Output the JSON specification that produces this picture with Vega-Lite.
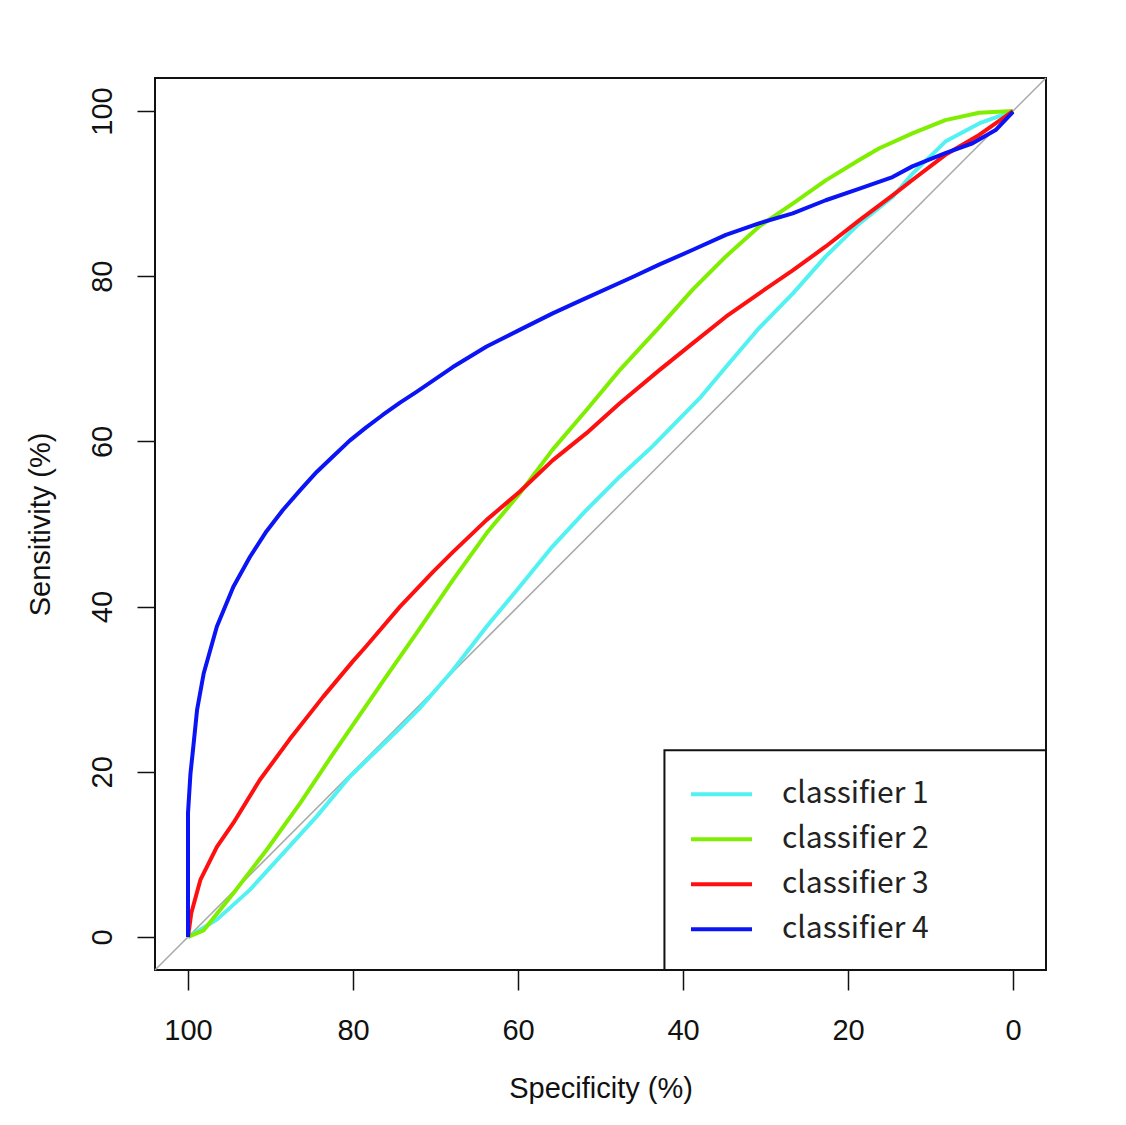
{
  "$schema": "https://vega.github.io/schema/vega-lite/v6.json",
  "width": 891,
  "height": 892,
  "autosize": {"type": "none"},
  "padding": {"left": 155, "top": 78, "right": 80, "bottom": 155},
  "background": "white",
  "config": {
    "view": {"stroke": "#111111", "strokeWidth": 2},
    "font": "Liberation Sans"
  },
  "layer": [
    {
      "data": {"values": [{}]},
      "mark": {"type": "rule", "color": "#a8a8a8", "strokeWidth": 1.5},
      "encoding": {
        "x": {"datum": 104, "type": "quantitative", "scale": {"domain": [-4, 104], "reverse": true, "nice": false, "zero": false}},
        "y": {"datum": -4, "type": "quantitative", "scale": {"domain": [-4, 104], "nice": false, "zero": false}},
        "x2": {"datum": -4},
        "y2": {"datum": 104}
      }
    },
    {
      "data": {"values": [{}]},
      "mark": {"type": "rect", "fill": "white", "stroke": "#111111", "strokeWidth": 2},
      "encoding": {
        "x": {"datum": 42.25, "type": "quantitative"},
        "x2": {"datum": -4},
        "y": {"datum": -4, "type": "quantitative"},
        "y2": {"datum": 22.6}
      }
    },
    {
      "data": {
        "values": [
          {"classifier": "classifier 1", "spec": 100, "sens": 0},
          {"classifier": "classifier 1", "spec": 96.5, "sens": 2.1},
          {"classifier": "classifier 1", "spec": 92.5, "sens": 5.7},
          {"classifier": "classifier 1", "spec": 88.5, "sens": 10.1},
          {"classifier": "classifier 1", "spec": 84.4, "sens": 14.6},
          {"classifier": "classifier 1", "spec": 80.4, "sens": 19.4},
          {"classifier": "classifier 1", "spec": 74.3, "sens": 25.3},
          {"classifier": "classifier 1", "spec": 71.9, "sens": 27.7},
          {"classifier": "classifier 1", "spec": 67.9, "sens": 32.3},
          {"classifier": "classifier 1", "spec": 63.8, "sens": 37.6},
          {"classifier": "classifier 1", "spec": 59.8, "sens": 42.4},
          {"classifier": "classifier 1", "spec": 55.8, "sens": 47.3},
          {"classifier": "classifier 1", "spec": 51.7, "sens": 51.7},
          {"classifier": "classifier 1", "spec": 47.7, "sens": 55.7},
          {"classifier": "classifier 1", "spec": 43.7, "sens": 59.4},
          {"classifier": "classifier 1", "spec": 38.0, "sens": 65.2},
          {"classifier": "classifier 1", "spec": 34.8, "sens": 69.0},
          {"classifier": "classifier 1", "spec": 30.8, "sens": 73.7},
          {"classifier": "classifier 1", "spec": 26.7, "sens": 77.9},
          {"classifier": "classifier 1", "spec": 22.7, "sens": 82.4},
          {"classifier": "classifier 1", "spec": 18.6, "sens": 86.4},
          {"classifier": "classifier 1", "spec": 14.6, "sens": 89.6},
          {"classifier": "classifier 1", "spec": 12.2, "sens": 92.4},
          {"classifier": "classifier 1", "spec": 8.2, "sens": 96.3},
          {"classifier": "classifier 1", "spec": 4.1, "sens": 98.5},
          {"classifier": "classifier 1", "spec": 0, "sens": 100},

          {"classifier": "classifier 2", "spec": 100, "sens": 0},
          {"classifier": "classifier 2", "spec": 98.1, "sens": 0.8},
          {"classifier": "classifier 2", "spec": 94.5, "sens": 5.3},
          {"classifier": "classifier 2", "spec": 90.5, "sens": 10.5},
          {"classifier": "classifier 2", "spec": 86.4, "sens": 16.2},
          {"classifier": "classifier 2", "spec": 82.4, "sens": 22.2},
          {"classifier": "classifier 2", "spec": 78.4, "sens": 28.0},
          {"classifier": "classifier 2", "spec": 76.0, "sens": 31.5},
          {"classifier": "classifier 2", "spec": 72.3, "sens": 36.8},
          {"classifier": "classifier 2", "spec": 67.9, "sens": 43.2},
          {"classifier": "classifier 2", "spec": 63.8, "sens": 48.9},
          {"classifier": "classifier 2", "spec": 59.8, "sens": 53.7},
          {"classifier": "classifier 2", "spec": 55.8, "sens": 59.0},
          {"classifier": "classifier 2", "spec": 51.7, "sens": 63.8},
          {"classifier": "classifier 2", "spec": 47.7, "sens": 68.6},
          {"classifier": "classifier 2", "spec": 42.9, "sens": 73.8},
          {"classifier": "classifier 2", "spec": 38.8, "sens": 78.4},
          {"classifier": "classifier 2", "spec": 34.8, "sens": 82.4},
          {"classifier": "classifier 2", "spec": 30.8, "sens": 86.0},
          {"classifier": "classifier 2", "spec": 26.7, "sens": 88.8},
          {"classifier": "classifier 2", "spec": 22.7, "sens": 91.6},
          {"classifier": "classifier 2", "spec": 18.6, "sens": 94.1},
          {"classifier": "classifier 2", "spec": 16.2, "sens": 95.5},
          {"classifier": "classifier 2", "spec": 12.2, "sens": 97.3},
          {"classifier": "classifier 2", "spec": 8.2, "sens": 98.9},
          {"classifier": "classifier 2", "spec": 4.1, "sens": 99.8},
          {"classifier": "classifier 2", "spec": 0, "sens": 100},

          {"classifier": "classifier 3", "spec": 100, "sens": 0},
          {"classifier": "classifier 3", "spec": 99.6, "sens": 2.9},
          {"classifier": "classifier 3", "spec": 98.5, "sens": 6.9},
          {"classifier": "classifier 3", "spec": 96.5, "sens": 10.9},
          {"classifier": "classifier 3", "spec": 94.5, "sens": 13.8},
          {"classifier": "classifier 3", "spec": 91.3, "sens": 19.0},
          {"classifier": "classifier 3", "spec": 87.7, "sens": 23.9},
          {"classifier": "classifier 3", "spec": 83.6, "sens": 29.1},
          {"classifier": "classifier 3", "spec": 80.0, "sens": 33.4},
          {"classifier": "classifier 3", "spec": 78.4, "sens": 35.2},
          {"classifier": "classifier 3", "spec": 74.3, "sens": 40.0},
          {"classifier": "classifier 3", "spec": 70.3, "sens": 44.2},
          {"classifier": "classifier 3", "spec": 67.9, "sens": 46.6},
          {"classifier": "classifier 3", "spec": 63.8, "sens": 50.5},
          {"classifier": "classifier 3", "spec": 59.8, "sens": 53.9},
          {"classifier": "classifier 3", "spec": 55.8, "sens": 57.7},
          {"classifier": "classifier 3", "spec": 51.7, "sens": 61.0},
          {"classifier": "classifier 3", "spec": 47.7, "sens": 64.6},
          {"classifier": "classifier 3", "spec": 42.9, "sens": 68.6},
          {"classifier": "classifier 3", "spec": 38.8, "sens": 71.9},
          {"classifier": "classifier 3", "spec": 34.8, "sens": 75.1},
          {"classifier": "classifier 3", "spec": 30.8, "sens": 77.9},
          {"classifier": "classifier 3", "spec": 26.7, "sens": 80.7},
          {"classifier": "classifier 3", "spec": 22.7, "sens": 83.6},
          {"classifier": "classifier 3", "spec": 18.6, "sens": 86.8},
          {"classifier": "classifier 3", "spec": 14.6, "sens": 89.8},
          {"classifier": "classifier 3", "spec": 12.0, "sens": 91.8},
          {"classifier": "classifier 3", "spec": 8.2, "sens": 94.7},
          {"classifier": "classifier 3", "spec": 4.1, "sens": 97.1},
          {"classifier": "classifier 3", "spec": 0, "sens": 100},

          {"classifier": "classifier 4", "spec": 100, "sens": 0},
          {"classifier": "classifier 4", "spec": 100, "sens": 15.0},
          {"classifier": "classifier 4", "spec": 99.7, "sens": 19.8},
          {"classifier": "classifier 4", "spec": 99.4, "sens": 22.6},
          {"classifier": "classifier 4", "spec": 98.9, "sens": 27.5},
          {"classifier": "classifier 4", "spec": 98.1, "sens": 31.9},
          {"classifier": "classifier 4", "spec": 96.5, "sens": 37.6},
          {"classifier": "classifier 4", "spec": 94.5, "sens": 42.4},
          {"classifier": "classifier 4", "spec": 92.5, "sens": 46.0},
          {"classifier": "classifier 4", "spec": 90.5, "sens": 49.1},
          {"classifier": "classifier 4", "spec": 88.5, "sens": 51.7},
          {"classifier": "classifier 4", "spec": 86.4, "sens": 54.1},
          {"classifier": "classifier 4", "spec": 84.4, "sens": 56.3},
          {"classifier": "classifier 4", "spec": 82.4, "sens": 58.2},
          {"classifier": "classifier 4", "spec": 80.4, "sens": 60.1},
          {"classifier": "classifier 4", "spec": 78.4, "sens": 61.7},
          {"classifier": "classifier 4", "spec": 76.4, "sens": 63.2},
          {"classifier": "classifier 4", "spec": 74.3, "sens": 64.7},
          {"classifier": "classifier 4", "spec": 72.3, "sens": 66.0},
          {"classifier": "classifier 4", "spec": 67.9, "sens": 69.0},
          {"classifier": "classifier 4", "spec": 63.8, "sens": 71.5},
          {"classifier": "classifier 4", "spec": 59.8, "sens": 73.5},
          {"classifier": "classifier 4", "spec": 55.8, "sens": 75.5},
          {"classifier": "classifier 4", "spec": 52.3, "sens": 77.1},
          {"classifier": "classifier 4", "spec": 46.1, "sens": 79.9},
          {"classifier": "classifier 4", "spec": 42.9, "sens": 81.4},
          {"classifier": "classifier 4", "spec": 38.8, "sens": 83.2},
          {"classifier": "classifier 4", "spec": 34.8, "sens": 85.0},
          {"classifier": "classifier 4", "spec": 30.8, "sens": 86.4},
          {"classifier": "classifier 4", "spec": 26.7, "sens": 87.6},
          {"classifier": "classifier 4", "spec": 22.7, "sens": 89.2},
          {"classifier": "classifier 4", "spec": 18.6, "sens": 90.6},
          {"classifier": "classifier 4", "spec": 14.6, "sens": 92.0},
          {"classifier": "classifier 4", "spec": 12.2, "sens": 93.3},
          {"classifier": "classifier 4", "spec": 8.2, "sens": 94.9},
          {"classifier": "classifier 4", "spec": 4.9, "sens": 96.1},
          {"classifier": "classifier 4", "spec": 2.1, "sens": 97.7},
          {"classifier": "classifier 4", "spec": 0, "sens": 99.9}
        ]
      },
      "mark": {"type": "line", "strokeWidth": 4, "strokeJoin": "round"},
      "encoding": {
        "x": {
          "field": "spec",
          "type": "quantitative",
          "scale": {"domain": [-4, 104], "reverse": true, "nice": false, "zero": false},
          "axis": {
            "values": [0, 20, 40, 60, 80, 100],
            "domain": false,
            "grid": false,
            "tickSize": 20,
            "tickWidth": 1.5,
            "tickColor": "#111111",
            "labelFontSize": 29,
            "labelColor": "#111111",
            "labelPadding": 26,
            "labelFlush": false,
            "title": "Specificity (%)",
            "titleFontSize": 29,
            "titleFontWeight": "normal",
            "titleColor": "#111111",
            "titlePadding": 29
          }
        },
        "y": {
          "field": "sens",
          "type": "quantitative",
          "scale": {"domain": [-4, 104], "nice": false, "zero": false},
          "axis": {
            "values": [0, 20, 40, 60, 80, 100],
            "domain": false,
            "grid": false,
            "tickSize": 18,
            "tickWidth": 1.5,
            "tickColor": "#111111",
            "labelFontSize": 29,
            "labelColor": "#111111",
            "labelAngle": 270,
            "labelAlign": "center",
            "labelBaseline": "alphabetic",
            "labelPadding": 26,
            "labelFlush": false,
            "title": "Sensitivity (%)",
            "titleFontSize": 29,
            "titleFontWeight": "normal",
            "titleColor": "#111111",
            "titlePadding": 33
          }
        },
        "order": {"field": "sens"},
        "color": {
          "field": "classifier",
          "type": "nominal",
          "scale": {
            "domain": ["classifier 1", "classifier 2", "classifier 3", "classifier 4"],
            "range": ["#52F2F2", "#7FEE00", "#FF1010", "#0A14F5"]
          },
          "legend": {
            "orient": "none",
            "legendX": 534,
            "legendY": 694,
            "title": null,
            "padding": 0,
            "symbolType": "stroke",
            "symbolSize": 3721,
            "symbolStrokeWidth": 4,
            "labelFont": "Noto Sans CJK SC",
            "labelFontSize": 30,
            "labelColor": "#222222",
            "labelOffset": 28,
            "clipHeight": 44.5,
            "rowPadding": 0,
            "labelLimit": 400
          }
        }
      }
    }
  ]
}
